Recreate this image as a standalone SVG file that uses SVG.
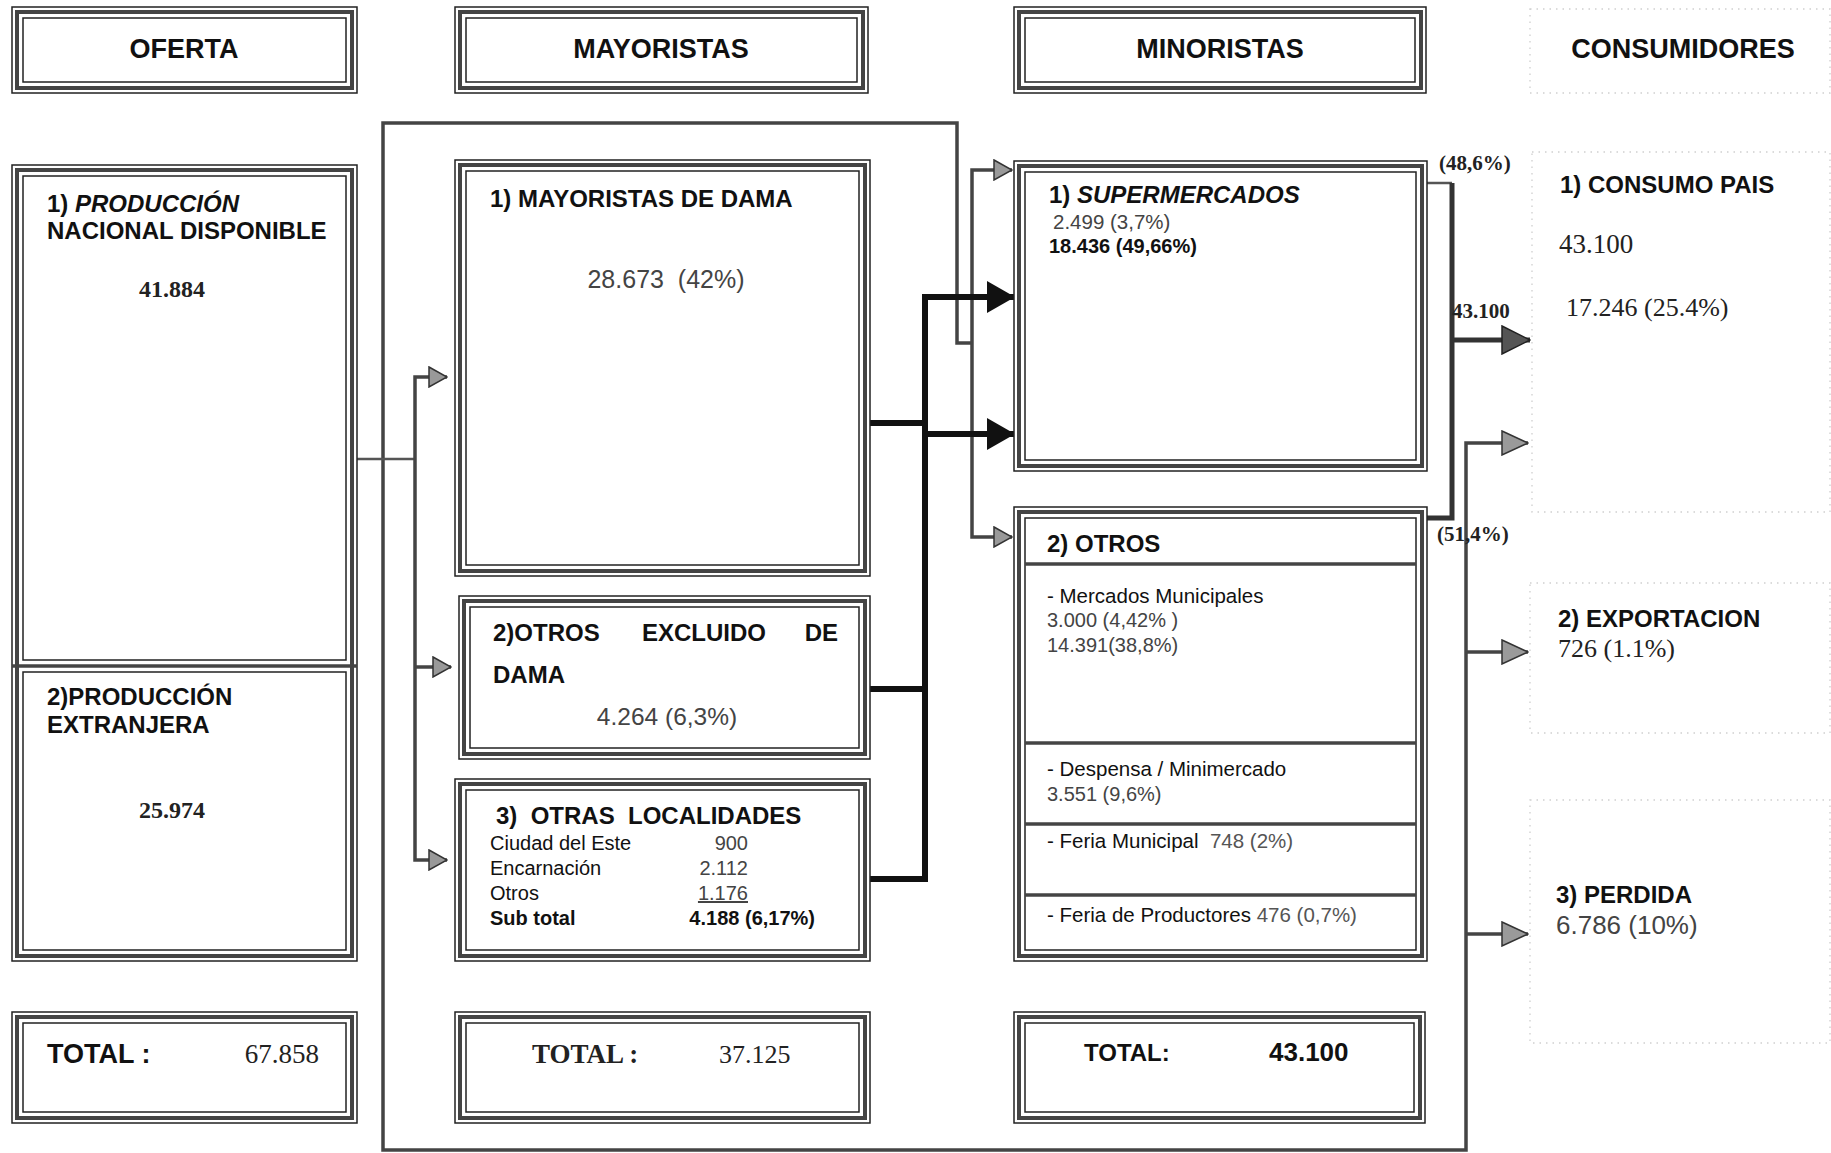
<svg xmlns="http://www.w3.org/2000/svg" width="1831" height="1153" viewBox="0 0 1831 1153">
<style>
.bg{fill:#fff}
.o{fill:#fff;stroke:#222;stroke-width:1.5}
.m{fill:none;stroke:#444;stroke-width:4}
.i{fill:none;stroke:#222;stroke-width:1.5}
.dv{stroke:#444;stroke-width:3.5}
.f{fill:none;stroke:#cfcfcf;stroke-width:1.3;stroke-dasharray:1.5 5}
.t{font-family:"Liberation Sans",Arial,sans-serif;fill:#111}
.h{font-family:"Liberation Sans",Arial,sans-serif;font-weight:bold;font-size:27px;fill:#111}
.hb{font-family:"Liberation Sans",Arial,sans-serif;font-weight:bold;font-size:24px;fill:#111}
.s{font-family:"Liberation Serif","Times New Roman",serif;fill:#222}
.n{font-family:"Liberation Sans",Arial,sans-serif;fill:#444}
.c{fill:none;stroke:#444;stroke-width:3.5}
.ct{fill:none;stroke:#555;stroke-width:2.5}
.ck{fill:none;stroke:#111;stroke-width:6}
</style>
<defs>
<marker id="ag" markerUnits="userSpaceOnUse" markerWidth="20" markerHeight="22" refX="19" refY="11" orient="auto">
<path d="M1,1 L19,11 L1,21 z" fill="#999" stroke="#333" stroke-width="1.5"/>
</marker>
<marker id="agm" markerUnits="userSpaceOnUse" markerWidth="28" markerHeight="26" refX="27" refY="13" orient="auto">
<path d="M1,1 L27,13 L1,25 z" fill="#9a9a9a" stroke="#333" stroke-width="1.5"/>
</marker>
<marker id="ab" markerUnits="userSpaceOnUse" markerWidth="28" markerHeight="32" refX="27" refY="16" orient="auto">
<path d="M0,0 L28,16 L0,32 z" fill="#111"/>
</marker>
<marker id="ad" markerUnits="userSpaceOnUse" markerWidth="30" markerHeight="30" refX="29" refY="15" orient="auto">
<path d="M1,1 L29,15 L1,29 z" fill="#555" stroke="#222" stroke-width="1.5"/>
</marker>
</defs>
<rect class="bg" x="0" y="0" width="1831" height="1153"/>

<g id="connectors">
<path class="c" d="M972,343 H957 V123 H383 V1150 H1466 V443 H1528" marker-end="url(#agm)"/>
<path class="c" d="M972,343 V170 H1012" marker-end="url(#ag)"/>
<path class="c" d="M972,343 V537 H1012" marker-end="url(#ag)"/>
<path class="ct" d="M357,459 H415"/>
<path class="c" d="M415,459 V377 H447" marker-end="url(#ag)"/>
<path class="c" d="M415,459 V860 H447" marker-end="url(#ag)"/>
<path class="c" d="M415,667 H451" marker-end="url(#ag)"/>
<path class="ck" d="M870,423 H925"/>
<path class="ck" d="M870,689 H925"/>
<path class="ck" d="M870,879 H925 V297 H1014" marker-end="url(#ab)"/>
<path class="ck" d="M925,434 H1014" marker-end="url(#ab)"/>
<path class="ct" d="M1425,183 H1452"/>
<path class="ck" d="M1452,183 V518 H1425" style="stroke:#333;stroke-width:5"/>
<path class="ck" d="M1452,340 H1530" style="stroke:#333;stroke-width:5" marker-end="url(#ad)"/>
<path class="c" d="M1466,652 H1528" marker-end="url(#agm)"/>
<path class="c" d="M1466,934 H1528" marker-end="url(#agm)"/>
<text class="s" x="1439" y="170" font-size="21" font-weight="bold">(48,6%)</text>
<text class="s" x="1452" y="318" font-size="21" font-weight="bold">43.100</text>
<text class="s" x="1437" y="541" font-size="21" font-weight="bold">(51,4%)</text>
</g>

<g id="h-oferta">
<rect class="o" x="12" y="7" width="345" height="86"/><rect class="m" x="17" y="12" width="335" height="76"/><rect class="i" x="23" y="18" width="323" height="64"/>
<text class="h" x="184" y="58" text-anchor="middle">OFERTA</text>
</g>
<g id="h-mayoristas">
<rect class="o" x="455" y="7" width="413" height="86"/><rect class="m" x="460" y="12" width="403" height="76"/><rect class="i" x="466" y="18" width="391" height="64"/>
<text class="h" x="661" y="58" text-anchor="middle">MAYORISTAS</text>
</g>
<g id="h-minoristas">
<rect class="o" x="1014" y="7" width="412" height="86"/><rect class="m" x="1019" y="12" width="402" height="76"/><rect class="i" x="1025" y="18" width="390" height="64"/>
<text class="h" x="1220" y="58" text-anchor="middle">MINORISTAS</text>
</g>
<g id="h-consumidores">
<rect class="f" x="1530" y="9" width="300" height="84"/>
<text class="h" x="1683" y="58" text-anchor="middle">CONSUMIDORES</text>
</g>

<g id="oferta">
<rect class="o" x="12" y="165" width="345" height="796"/><rect class="m" x="17" y="170" width="335" height="786"/>
<rect class="i" x="23" y="176" width="323" height="484"/>
<rect class="i" x="23" y="672" width="323" height="278"/>
<line class="dv" x1="12" y1="666" x2="357" y2="666"/>
<text class="hb" x="47" y="212">1) <tspan font-style="italic">PRODUCCIÓN</tspan></text>
<text class="hb" x="47" y="239">NACIONAL DISPONIBLE</text>
<text class="s" x="172" y="297" font-size="24" font-weight="bold" text-anchor="middle">41.884</text>
<text class="hb" x="47" y="705">2)PRODUCCIÓN</text>
<text class="hb" x="47" y="733">EXTRANJERA</text>
<text class="s" x="172" y="818" font-size="24" font-weight="bold" text-anchor="middle">25.974</text>
</g>
<g id="total-oferta">
<rect class="o" x="12" y="1012" width="345" height="111"/><rect class="m" x="17" y="1017" width="335" height="101"/><rect class="i" x="23" y="1023" width="323" height="89"/>
<text class="h" x="47" y="1063" font-size="28">TOTAL :</text>
<text class="s" x="319" y="1063" font-size="27" text-anchor="end" fill="#444">67.858</text>
</g>

<g id="mayoristas-dama">
<rect class="o" x="455" y="160" width="415" height="416"/><rect class="m" x="460" y="165" width="405" height="406"/><rect class="i" x="466" y="171" width="393" height="394"/>
<text class="hb" x="490" y="207" font-size="24.5">1) MAYORISTAS DE DAMA</text>
<text class="n" x="666" y="288" font-size="25" text-anchor="middle" style="white-space:pre">28.673  (42%)</text>
</g>
<g id="otros-excluido">
<rect class="o" x="459" y="596" width="411" height="163"/><rect class="m" x="464" y="601" width="401" height="153"/><rect class="i" x="470" y="607" width="389" height="141"/>
<text class="hb" x="493" y="641">2)OTROS</text>
<text class="hb" x="642" y="641">EXCLUIDO</text>
<text class="hb" x="838" y="641" text-anchor="end">DE</text>
<text class="hb" x="493" y="683">DAMA</text>
<text class="n" x="667" y="725" font-size="24.5" text-anchor="middle">4.264 (6,3%)</text>
</g>
<g id="otras-localidades">
<rect class="o" x="455" y="779" width="415" height="182"/><rect class="m" x="460" y="784" width="405" height="172"/><rect class="i" x="466" y="790" width="393" height="160"/>
<text class="hb" x="496" y="824" style="white-space:pre">3)  OTRAS  LOCALIDADES</text>
<text class="t" x="490" y="850" font-size="20">Ciudad del Este</text>
<text class="n" x="748" y="850" font-size="20" text-anchor="end">900</text>
<text class="t" x="490" y="875" font-size="20">Encarnación</text>
<text class="n" x="748" y="875" font-size="20" text-anchor="end">2.112</text>
<text class="t" x="490" y="900" font-size="20">Otros</text>
<text class="n" x="748" y="900" font-size="20" text-anchor="end" text-decoration="underline">1.176</text>
<text class="t" x="490" y="925" font-size="20" font-weight="bold">Sub total</text>
<text class="t" x="815" y="925" font-size="20" font-weight="bold" text-anchor="end" fill="#333">4.188 (6,17%)</text>
</g>
<g id="total-mayoristas">
<rect class="o" x="455" y="1012" width="415" height="111"/><rect class="m" x="460" y="1017" width="405" height="101"/><rect class="i" x="466" y="1023" width="393" height="89"/>
<text class="s" x="532" y="1063" font-size="27" font-weight="bold" fill="#111">TOTAL :</text>
<text class="s" x="719" y="1063" font-size="26" fill="#333">37.125</text>
</g>

<g id="supermercados">
<rect class="o" x="1014" y="161" width="413" height="310"/><rect class="m" x="1019" y="166" width="403" height="300"/><rect class="i" x="1025" y="172" width="391" height="288"/>
<text class="hb" x="1049" y="203">1) <tspan font-style="italic">SUPERMERCADOS</tspan></text>
<text class="n" x="1053" y="229" font-size="20.5">2.499 (3,7%)</text>
<text class="t" x="1049" y="253" font-size="20" font-weight="bold" fill="#333">18.436 (49,66%)</text>
</g>
<g id="otros">
<rect class="o" x="1014" y="507" width="413" height="454"/><rect class="m" x="1019" y="512" width="403" height="444"/><rect class="i" x="1025" y="518" width="391" height="432"/>
<line class="dv" x1="1025" y1="564" x2="1416" y2="564"/>
<line class="dv" x1="1025" y1="743" x2="1416" y2="743"/>
<line class="dv" x1="1025" y1="824" x2="1416" y2="824"/>
<line class="dv" x1="1025" y1="895" x2="1416" y2="895"/>
<text class="hb" x="1047" y="552">2) OTROS</text>
<text class="t" x="1047" y="603" font-size="20.5">- Mercados Municipales</text>
<text class="n" x="1047" y="627" font-size="20">3.000 (4,42% )</text>
<text class="n" x="1047" y="652" font-size="20">14.391(38,8%)</text>
<text class="t" x="1047" y="776" font-size="20.5">- Despensa / Minimercado</text>
<text class="n" x="1047" y="801" font-size="20">3.551 (9,6%)</text>
<text class="t" x="1047" y="848" font-size="20.5" style="white-space:pre">- Feria Municipal  <tspan fill="#555">748 (2%)</tspan></text>
<text class="t" x="1047" y="922" font-size="20.5">- Feria de Productores <tspan fill="#555">476 (0,7%)</tspan></text>
</g>
<g id="total-minoristas">
<rect class="o" x="1014" y="1012" width="411" height="111"/><rect class="m" x="1019" y="1017" width="401" height="101"/><rect class="i" x="1025" y="1023" width="389" height="89"/>
<text class="hb" x="1084" y="1061" font-size="26">TOTAL:</text>
<text class="t" x="1269" y="1061" font-size="26" font-weight="bold" fill="#444">43.100</text>
</g>

<g id="consumo-pais">
<rect class="f" x="1532" y="152" width="298" height="360"/>
<text class="hb" x="1560" y="193">1) CONSUMO PAIS</text>
<text class="s" x="1559" y="253" font-size="27" fill="#444">43.100</text>
<text class="s" x="1566" y="316" font-size="26" fill="#444">17.246 (25.4%)</text>
</g>
<g id="exportacion">
<rect class="f" x="1530" y="583" width="300" height="150"/>
<text class="hb" x="1558" y="627">2) EXPORTACION</text>
<text class="s" x="1558" y="657" font-size="26" fill="#555">726 (1.1%)</text>
</g>
<g id="perdida">
<rect class="f" x="1530" y="800" width="300" height="243"/>
<text class="hb" x="1556" y="903">3) PERDIDA</text>
<text class="n" x="1556" y="934" font-size="26">6.786 (10%)</text>
</g>
</svg>
